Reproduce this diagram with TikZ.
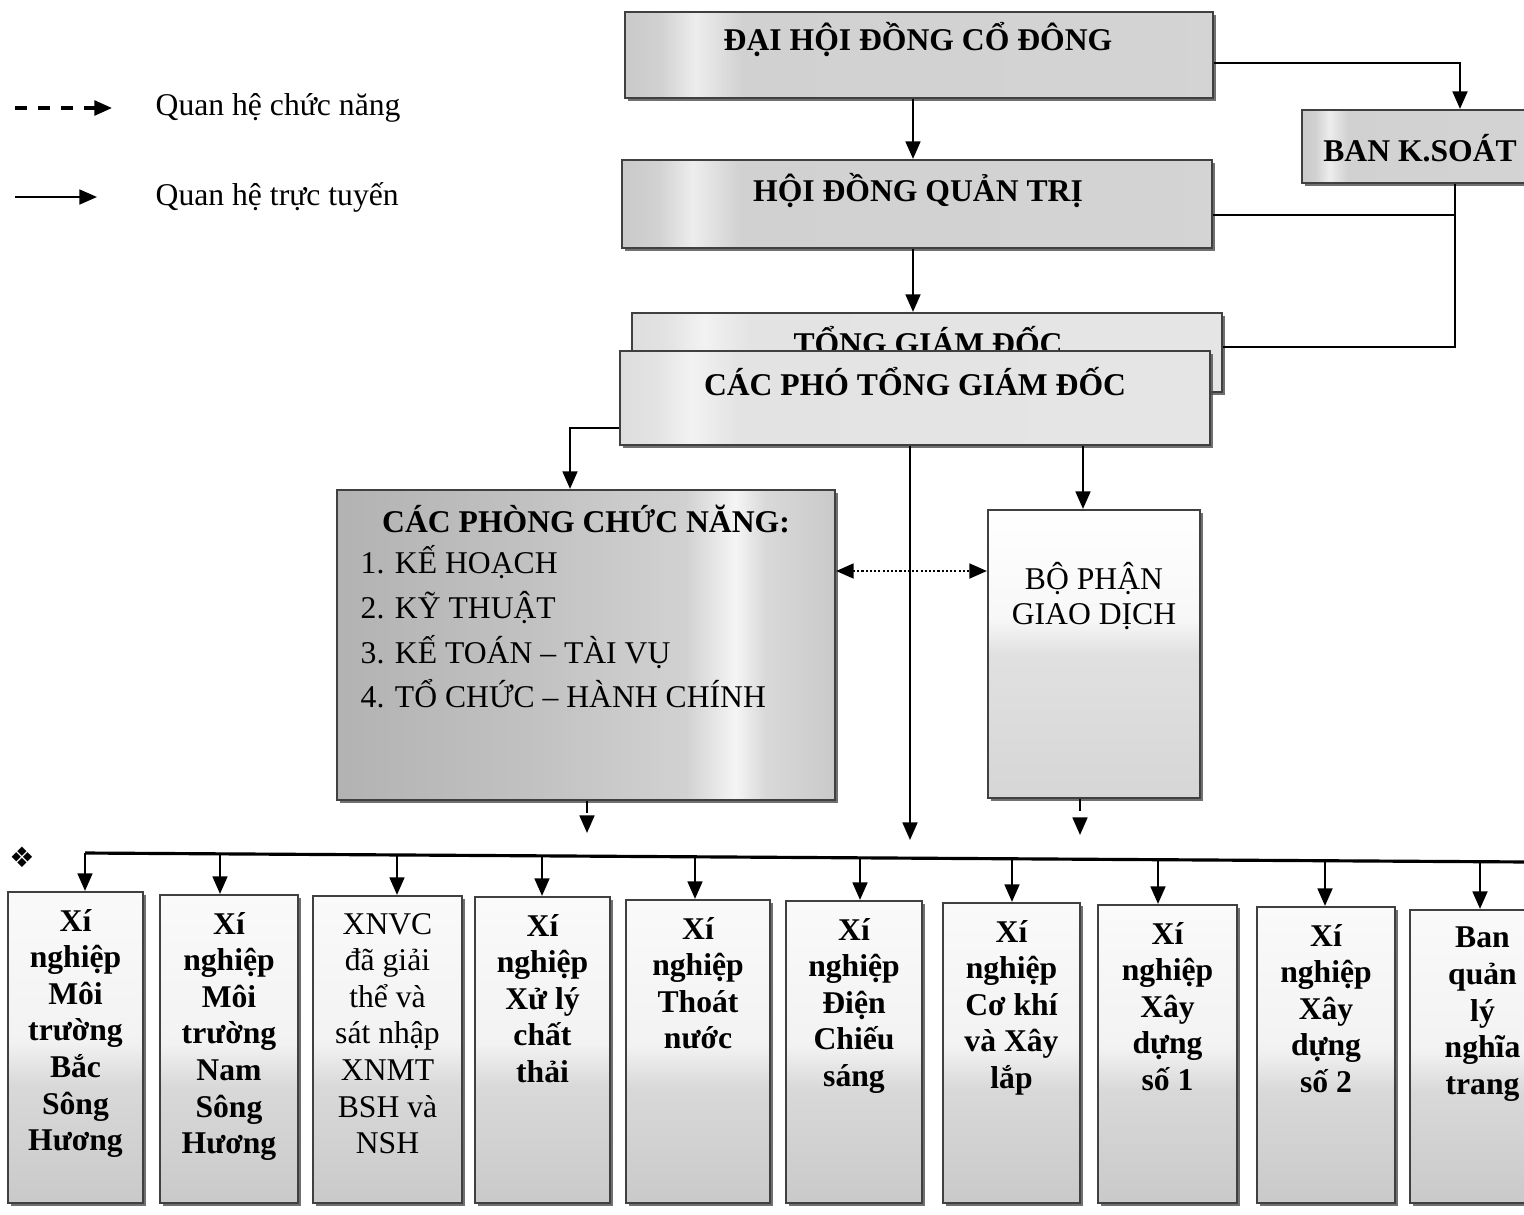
\documentclass[tikz,border=0pt]{standalone}
\usepackage{fontspec}
\setmainfont{Liberation Serif}
\newfontfamily\symfont{DejaVu Sans}
\usepackage{tikz}
\usetikzlibrary{arrows.meta, shadows, fit}

\pgfdeclarehorizontalshading{topshade}{100bp}{color(0bp)=(gray!42); color(25bp)=(gray!42); color(28bp)=(gray!36); color(31bp)=(gray!14); color(35bp)=(gray!36); color(75bp)=(gray!34); color(100bp)=(gray!34)}
\pgfdeclarehorizontalshading{phoshade}{100bp}{color(0bp)=(gray!26); color(25bp)=(gray!26); color(28bp)=(gray!22); color(31bp)=(gray!10); color(35bp)=(gray!22); color(75bp)=(gray!20); color(100bp)=(gray!20)}
\pgfdeclarehorizontalshading{phongshade}{100bp}{color(0bp)=(gray!60); color(25bp)=(gray!60); color(45bp)=(gray!48); color(60bp)=(gray!36); color(65bp)=(gray!8); color(68bp)=(gray!30); color(75bp)=(gray!42); color(100bp)=(gray!42)}
\pgfdeclareverticalshading{bpshade}{100bp}{color(0bp)=(gray!32); color(25bp)=(gray!32); color(50bp)=(gray!24); color(56bp)=(gray!6); color(75bp)=(white); color(100bp)=(white)}
\pgfdeclareverticalshading{colshade}{100bp}{color(0bp)=(gray!42); color(25bp)=(gray!42); color(44bp)=(gray!30); color(51bp)=(gray!10); color(75bp)=(gray!4); color(100bp)=(gray!4)}

\begin{document}
\begin{tikzpicture}[x=0.01cm, y=-0.01cm,
    txt/.style={font=\fontsize{9}{10.4}\selectfont, inner sep=0pt, align=center},
    btxt/.style={txt, font=\fontsize{9}{10.4}\selectfont\bfseries},
    box/.style={draw=gray!50!black, line width=0.6pt, inner sep=0pt,
        drop shadow={shadow xshift=0.8pt, shadow yshift=-0.8pt, fill=gray!60!black, opacity=0.8}},
    topbox/.style={box, shading=topshade},
    phobox/.style={box, shading=phoshade},
    colbox/.style={box, shading=colshade},
    line/.style={line width=0.7pt, -{Triangle[length=5pt, width=4.2pt]}},
    plain/.style={line width=0.7pt},
    func/.style={line, dash pattern=on 3.5pt off 3pt},
    dotline/.style={line width=0.7pt, dash pattern=on 0.6pt off 0.6pt,
        {Triangle[length=5pt, width=4.2pt]}-{Triangle[length=5pt, width=4.2pt]}}]
\useasboundingbox (0,0) rectangle (1524,1214);
\clip (0,0) rectangle (1524,1214);

\coordinate (lg1a) at (15,108); \coordinate (lg1b) at (112,108);
\coordinate (lg2a) at (15,197); \coordinate (lg2b) at (97,197);
\draw[func, line width=0.9pt] (lg1a) -- (lg1b);
\draw[line] (lg2a) -- (lg2b);
\node[txt, anchor=west] (lg1) at (155,108) {Quan hệ chức năng};
\node[txt, anchor=west] (lg2) at (155,197) {Quan hệ trực tuyến};

\node[topbox, fit={(625,12) (1213,98)}] (dhcd) {};
\node[btxt] (dhcd-t) at (918,40) {ĐẠI HỘI ĐỒNG CỔ ĐÔNG};
\node[topbox, fit={(1302,110) (1530,183)}] (bks) {};
\node[btxt] (bks-t) at (1420,148) {BAN K.SOÁT};
\node[topbox, fit={(622,160) (1212,248)}] (hdqt) {};
\node[btxt] (hdqt-t) at (918,190) {HỘI ĐỒNG QUẢN TRỊ};
\node[phobox, fit={(632,313) (1222,392)}] (tgd) {};
\node[btxt] (tgd-t) at (928,341) {TỔNG GIÁM ĐỐC};
\node[phobox, fit={(620,351) (1210,445)}] (ptgd) {};
\node[btxt] (ptgd-t) at (915,382) {CÁC PHÓ TỔNG GIÁM ĐỐC};

\node[box, shading=phongshade, fit={(337,490) (835,800)}] (phong) {};
\node[btxt] (phong-t) at (586,519) {CÁC PHÒNG CHỨC NĂNG:};
\node[txt, align=left, anchor=north west, font=\fontsize{9}{12.7}\selectfont] (phong-l) at (360,545)
    {1. KẾ HOẠCH\\2. KỸ THUẬT\\3. KẾ TOÁN -- TÀI VỤ\\4. TỔ CHỨC -- HÀNH CHÍNH};
\node[box, shading=bpshade, fit={(988,510) (1200,798)}] (bpgd) {};
\node[txt, font=\fontsize{9}{10}\selectfont] (bpgd-t) at (1094,596) {BỘ PHẬN\\GIAO DỊCH};

\draw[line] (dhcd.south -| 913,0) -- (hdqt.north -| 913,0);
\draw[line] (hdqt.south -| 913,0) -- (tgd.north -| 913,0);
\draw[line] (dhcd.east |- 0,63) -| (bks.north -| 1460,0);
\coordinate (kj) at (1455,215);
\draw[plain] (hdqt.east |- kj) -- (kj);
\draw[plain] (bks.south -| 1455,0) |- (tgd.east |- 0,347);
\draw[line] (ptgd.west |- 0,428) -| (phong.north -| 570,0);
\draw[line] (ptgd.south -| 1083,0) -- (bpgd.north -| 1083,0);
\coordinate (c-mid) at (910,840);
\draw[line] (ptgd.south -| c-mid) -- (c-mid);
\draw[dotline] (phong.east |- 0,571) -- (bpgd.west |- 0,571);
\coordinate (c-phong) at (587,833);
\coordinate (c-bpgd) at (1080,835);
\draw[func] (phong.south -| c-phong) -- (c-phong);
\draw[func] (bpgd.south -| c-bpgd) -- (c-bpgd);

\node[font=\symfont\fontsize{8}{8}\selectfont, inner sep=0pt] (sym) at (22,857) {❖};
\coordinate (bus-w) at (85,853);
\coordinate (bus-e) at (1530,862);
\draw[plain, line width=0.9pt] (bus-e) -- (bus-w);

\foreach \i/\xa/\xb/\top/\ax/\by/\fn/\txt in {
    1/8/143/892/85/853/btxt/{Xí\\nghiệp\\Môi\\trường\\Bắc\\Sông\\Hương},
    2/160/298/895/220/854/btxt/{Xí\\nghiệp\\Môi\\trường\\Nam\\Sông\\Hương},
    3/313/462/896/397/855/txt/{XNVC\\đã giải\\thể và\\sát nhập\\XNMT\\BSH và\\NSH},
    4/475/610/897/542/856/btxt/{Xí\\nghiệp\\Xử lý\\chất\\thải},
    5/626/770/900/695/857/btxt/{Xí\\nghiệp\\Thoát\\nước},
    6/786/922/901/860/858/btxt/{Xí\\nghiệp\\Điện\\Chiếu\\sáng},
    7/943/1080/903/1012/859/btxt/{Xí\\nghiệp\\Cơ khí\\và Xây\\lắp},
    8/1098/1237/905/1158/860/btxt/{Xí\\nghiệp\\Xây\\dựng\\số 1},
    9/1257/1395/907/1325/861/btxt/{Xí\\nghiệp\\Xây\\dựng\\số 2},
    10/1410/1555/910/1480/862/btxt/{Ban\\quản\\lý\\nghĩa\\trang}}
{
    \node[colbox, fit={(\xa,\top) (\xb,1203)}] (xn\i) {};
    \node[\fn, anchor=north] (xn\i-t) at ([yshift=-5pt]xn\i.north) {\txt};
    \coordinate (br\i) at (\ax,\by);
    \draw[line] (br\i) -- (xn\i.north -| br\i);
}
\end{tikzpicture}
\end{document}
